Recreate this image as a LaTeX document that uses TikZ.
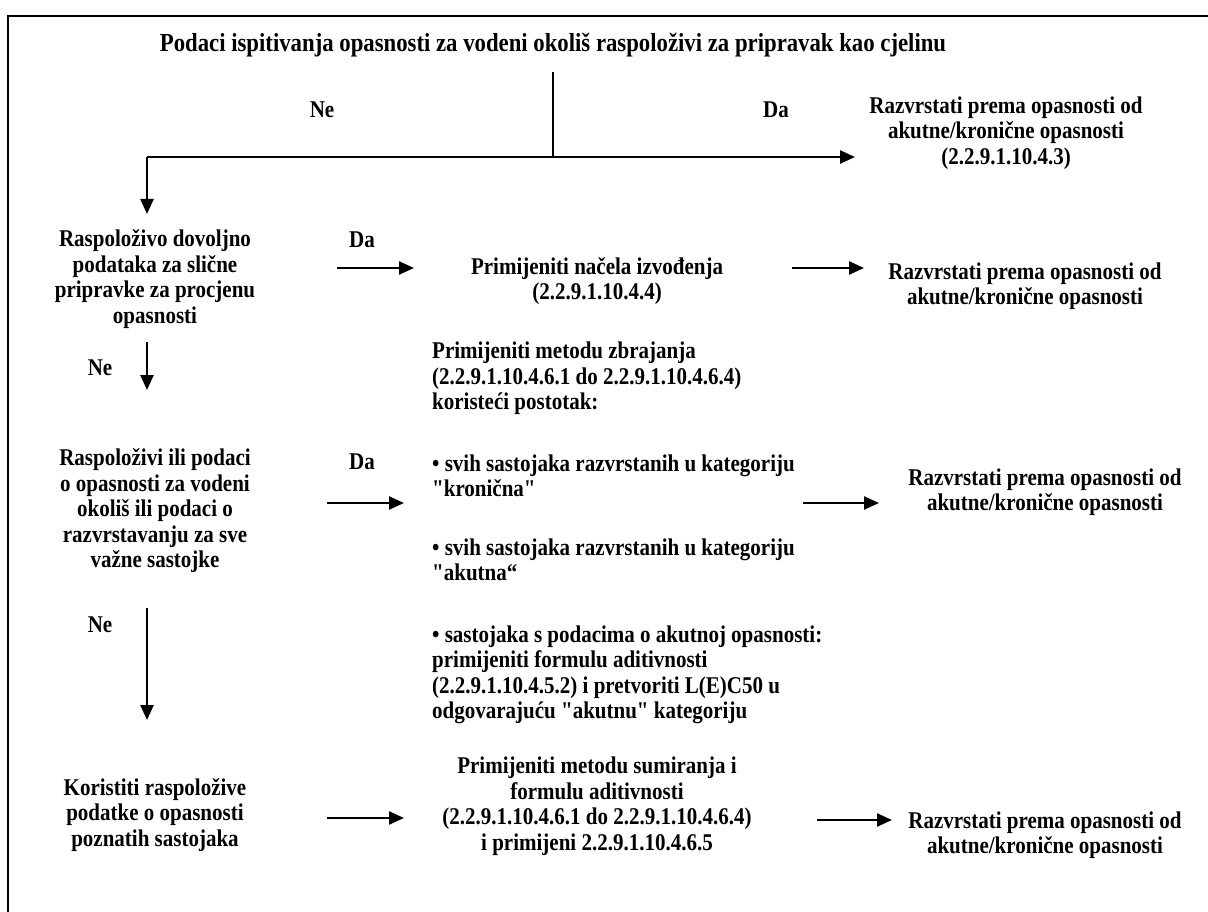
\documentclass[tikz,border=0pt]{standalone}
\usepackage{fontspec}
\newfontfamily\rawfont{Liberation Serif}[FakeStretch=0.875]
\usetikzlibrary{arrows.meta}
\begin{document}
\begin{tikzpicture}[x=1pt,y=-1pt,
  txt/.style={inner sep=0pt,align=center,font=\rawfont\fontsize{24}{25.5}\selectfont\bfseries},
  lbl/.style={inner sep=0pt,font=\rawfont\fontsize{24}{25.5}\selectfont\bfseries},
  arr/.style={line width=2.4pt,-{Triangle[length=15pt,width=13pt]}},
  ln/.style={line width=2.2pt}]
\useasboundingbox (0,0) rectangle (1208,912);
% frame (top and left sides visible)
\draw[line width=2.6pt] (8,912) -- (8,16) -- (1208,16);
% title
\node[inner sep=0pt,font=\rawfont\fontsize{26}{28}\selectfont\bfseries] (title) at (553,45) {Podaci ispitivanja opasnosti za vodeni okoliš raspoloživi za pripravak kao cjelinu};
\coordinate (t0) at (553,72);
\coordinate (j) at (553,157);
\coordinate (jl) at (147,157);
\coordinate (jr) at (855,157);
\coordinate (d0) at (147,214);
\draw[ln] (t0) -- (j);
\draw[arr] (jl) -- (jr);
\draw[arr] (jl) -- (d0);
\node[lbl] (ne0) at (322,110) {Ne};
\node[lbl] (da0) at (776,110) {Da};
\node[txt] (r0) at (1006,133) {Razvrstati prema opasnosti od\\akutne/kronične opasnosti\\(2.2.9.1.10.4.3)};
% row 1
\node[txt] (l1) at (155,279) {Raspoloživo dovoljno\\podataka za slične\\pripravke za procjenu\\opasnosti};
\node[lbl] (da1) at (362,240) {Da};
\coordinate (a1s) at (337,268);
\coordinate (a1e) at (414,268);
\draw[arr] (a1s) -- (a1e);
\node[txt] (m1) at (597,281) {Primijeniti načela izvođenja\\(2.2.9.1.10.4.4)};
\coordinate (b1s) at (792,268);
\coordinate (b1e) at (864,268);
\draw[arr] (b1s) -- (b1e);
\node[txt] (r1) at (1025,286) {Razvrstati prema opasnosti od\\akutne/kronične opasnosti};
\node[lbl] (ne1) at (100,368) {Ne};
\coordinate (v1s) at (147,342);
\coordinate (v1e) at (147,390);
\draw[arr] (v1s) -- (v1e);
% middle block
\node[txt,align=left,anchor=north west] (m2) at (432,342) {Primijeniti metodu zbrajanja\\
(2.2.9.1.10.4.6.1 do 2.2.9.1.10.4.6.4)\\
koristeći postotak:\\[36pt]
• svih sastojaka razvrstanih u kategoriju\\
"kronična"\\[33pt]
• svih sastojaka razvrstanih u kategoriju\\
"akutna“\\[36pt]
• sastojaka s podacima o akutnoj opasnosti:\\
primijeniti formulu aditivnosti\\
(2.2.9.1.10.4.5.2) i pretvoriti L(E)C50 u\\
odgovarajuću "akutnu" kategoriju};
% row 2
\node[txt] (l2) at (155,511) {Raspoloživi ili podaci\\o opasnosti za vodeni\\okoliš ili podaci o\\razvrstavanju za sve\\važne sastojke};
\node[lbl] (da2) at (362,462) {Da};
\coordinate (a2s) at (327,503);
\coordinate (a2e) at (404,503);
\draw[arr] (a2s) -- (a2e);
\coordinate (b2s) at (803,503);
\coordinate (b2e) at (879,503);
\draw[arr] (b2s) -- (b2e);
\node[txt] (r2) at (1045,492) {Razvrstati prema opasnosti od\\akutne/kronične opasnosti};
\node[lbl] (ne2) at (100,625) {Ne};
\coordinate (v2s) at (147,608);
\coordinate (v2e) at (147,720);
\draw[arr] (v2s) -- (v2e);
% row 3
\node[txt] (l3) at (155,815) {Koristiti raspoložive\\podatke o opasnosti\\poznatih sastojaka};
\coordinate (a3s) at (327,818);
\coordinate (a3e) at (404,818);
\draw[arr] (a3s) -- (a3e);
\node[txt] (m3) at (597,806) {Primijeniti metodu sumiranja i\\formulu aditivnosti\\(2.2.9.1.10.4.6.1 do 2.2.9.1.10.4.6.4)\\i primijeni 2.2.9.1.10.4.6.5};
\coordinate (b3s) at (817,820);
\coordinate (b3e) at (892,820);
\draw[arr] (b3s) -- (b3e);
\node[txt] (r3) at (1045,835) {Razvrstati prema opasnosti od\\akutne/kronične opasnosti};
\end{tikzpicture}
\end{document}
